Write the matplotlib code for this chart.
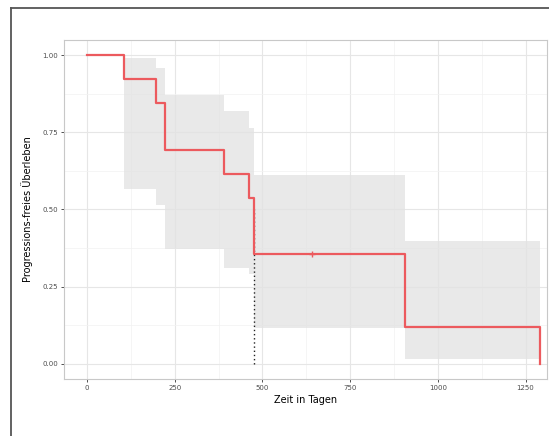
import numpy as np
import matplotlib

matplotlib.use('Agg')
import matplotlib.pyplot as plt
from matplotlib.lines import Line2D

# Kaplan-Meier estimate
times = [0, 105, 196, 221, 390, 461, 477, 905, 1290]
surv = [1.0, 0.923, 0.846, 0.692, 0.615, 0.538, 0.356, 0.119, 0.0]
upper = [1.0, 0.99, 0.96, 0.873, 0.82, 0.765, 0.611, 0.397, 0.0]
lower = [1.0, 0.567, 0.516, 0.372, 0.31, 0.29, 0.117, 0.016, 0.0]
censor_times = [640]

x_ticks = [0, 250, 500, 750, 1000, 1250]
y_ticks = [0.0, 0.25, 0.5, 0.75, 1.0]
y_tick_labels = ['0.00', '0.25', '0.50', '0.75', '1.00']


def surv_at(t):
    idx = np.searchsorted(times, t, side='right') - 1
    return surv[idx]


fig = plt.figure(figsize=(5.49, 4.36), dpi=100)
ax = fig.add_axes([0.1171, 0.1307, 0.8792, 0.7776])

ax.fill_between(times, lower, upper, step='post', color='#e2e2e2', alpha=0.75, lw=0, zorder=1)
ax.step(times, surv, where='post', color='#ec5a5e', lw=1.6, zorder=3)

censor_y = [surv_at(t) for t in censor_times]
ax.plot(censor_times, censor_y, '+', color='#ec5a5e', ms=4, mew=1.0, zorder=4)

# median line
median_time = times[int(np.argmax(np.array(surv) <= 0.5))]
ax.plot([median_time, median_time], [0, 0.5], color='#222222', ls=(0, (1, 2)), lw=1.0, zorder=2)

ax.set_xlim(-65, 1311)
ax.set_ylim(-0.05, 1.05)
ax.set_xticks(x_ticks)
ax.set_yticks(y_ticks)
ax.set_yticklabels(y_tick_labels)
ax.set_xticks([125, 375, 625, 875, 1125], minor=True)
ax.set_yticks([0.125, 0.375, 0.625, 0.875], minor=True)
ax.grid(which='major', color='#e6e6e6', lw=0.8, zorder=0)
ax.grid(which='minor', color='#f2f2f2', lw=0.5, zorder=0)
ax.set_axisbelow(True)
ax.tick_params(which='major', labelsize=5, labelcolor='#4d4d4d', color='#333333',
               length=2.5, width=0.6, pad=2)
ax.tick_params(which='minor', length=0)

for side in ['top', 'right', 'left', 'bottom']:
    ax.spines[side].set_color('#c8c8c8')
    ax.spines[side].set_linewidth(0.8)

ax.set_xlabel('Zeit in Tagen', fontsize=7, labelpad=3)
ax.set_ylabel('Progressions-freies Überleben', fontsize=7, labelpad=7)

# outer frame (left and top only)
fig.add_artist(Line2D([11 / 549, 11 / 549], [0, 1 - 8 / 436], color='#555555', lw=1.3,
                      transform=fig.transFigure))
fig.add_artist(Line2D([11 / 549, 1], [1 - 8 / 436, 1 - 8 / 436], color='#555555', lw=1.3,
                      transform=fig.transFigure))

fig.savefig('out.png', dpi=100)
